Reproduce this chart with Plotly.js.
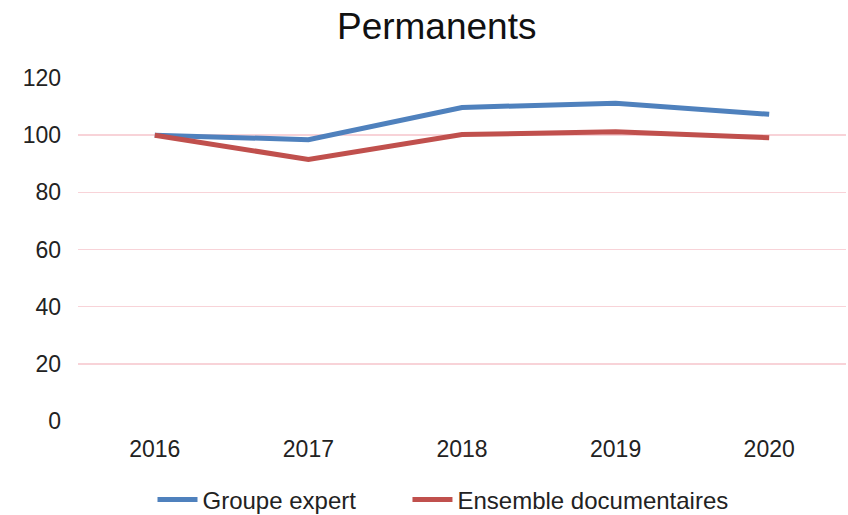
<!DOCTYPE html>
<html><head><meta charset="utf-8">
<script src="https://cdn.plot.ly/plotly-3.0.1.min.js"></script>
<style>html,body{margin:0;padding:0;background:#fff}#chart{width:848px;height:515px}</style>
</head><body><div id="chart"></div>
<script>
const years = ["2016", "2017", "2018", "2019", "2020"];
const groupeExpert = [100, 98.4, 109.7, 111.2, 107.3];
const ensembleDocumentaires = [100, 91.5, 100.2, 101.2, 99.1];
const yTicks = [0, 20, 40, 60, 80, 100, 120];

const traces = [
  {x: years, y: groupeExpert, name: "Groupe expert", type: "scatter", mode: "lines",
   line: {color: "#4F81BD", width: 5}, legend: "legend"},
  {x: years, y: ensembleDocumentaires, name: "Ensemble documentaires", type: "scatter", mode: "lines",
   line: {color: "#C0504D", width: 5}, legend: "legend2"}
];
const legendStyle = {orientation: "h", xanchor: "left", y: -0.23, yanchor: "middle",
                     font: {size: 24}, itemwidth: 40, bgcolor: "rgba(0,0,0,0)"};
const layout = {
  width: 848, height: 515,
  margin: {l: 78, r: 2, t: 78, b: 94, autoexpand: false},
  paper_bgcolor: "#fff", plot_bgcolor: "#fff",
  font: {family: "Liberation Sans, Arial, sans-serif", color: "#222", size: 23},
  title: {text: "Permanents", font: {size: 37, color: "#111"}, xref: "container", x: 0.515, xanchor: "center", y: 0.95, yanchor: "middle"},
  xaxis: {type: "category", range: [-0.5, 4.5], showgrid: false, zeroline: false, showline: false, ticks: "",
          tickfont: {size: 23}, ticklabelstandoff: 12},
  yaxis: {range: [0, 120], tickvals: yTicks, showgrid: true, gridcolor: "#F8D3D8", gridwidth: 1.5,
          zeroline: false, showline: false, ticks: "", tickfont: {size: 23}, ticklabelstandoff: 16},
  showlegend: true,
  legend: Object.assign({}, legendStyle, {x: 0.097}),
  legend2: Object.assign({}, legendStyle, {x: 0.429})
};
Plotly.newPlot("chart", traces, layout, {displayModeBar: false, staticPlot: true});
</script></body></html>
